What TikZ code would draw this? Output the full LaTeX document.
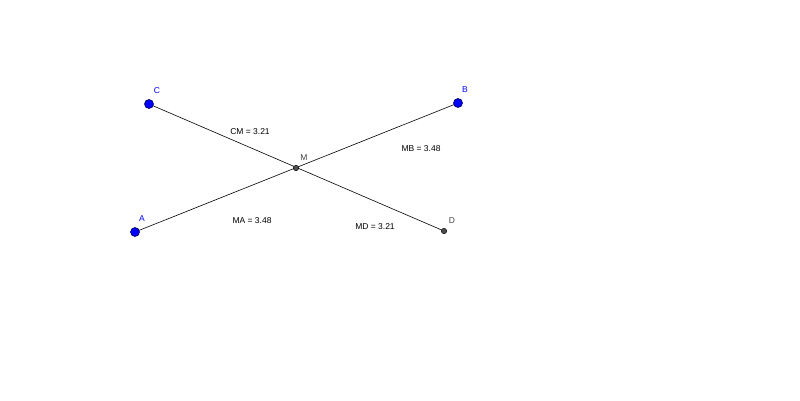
\documentclass[tikz,border=0pt]{standalone}
\usepackage{fontspec}
\setmainfont{Liberation Sans}
\begin{document}
\begin{tikzpicture}[x=1pt,y=-1pt,
  bpt/.style={circle,fill=blue,draw=black!70!blue,line width=0.6pt,inner sep=0pt,minimum size=9pt},
  gpt/.style={circle,fill=black!70,draw=black,line width=0.4pt,inner sep=0pt,minimum size=5.5pt},
  lbl/.style={font=\fontsize{8.5}{10}\selectfont,inner sep=1pt},
  seg/.style={line width=0.6pt,black}]
\useasboundingbox (0,0) rectangle (800,400);
\coordinate (A) at (135,232);
\coordinate (B) at (458,103);
\coordinate (C) at (149,104);
\coordinate (D) at (444,231);
\coordinate (M) at (296,168);
\draw[seg] (A) -- (B);
\draw[seg] (C) -- (D);
\node[bpt] (pA) at (A) {};
\node[bpt] (pB) at (B) {};
\node[bpt] (pC) at (C) {};
\node[gpt] (pD) at (D) {};
\node[gpt] (pM) at (M) {};
\node[lbl,text=blue] (la) at (142,219) {A};
\node[lbl,text=blue] (lb) at (465,90) {B};
\node[lbl,text=blue] (lc) at (157,91) {C};
\node[lbl,text=black!75] (ld) at (452,221) {D};
\node[lbl,text=black!75] (lm) at (304,158) {M};
\node[lbl,fill=white] (cm) at (250,132) {CM = 3.21};
\node[lbl] (mb) at (421,149) {MB = 3.48};
\node[lbl] (ma) at (252,221) {MA = 3.48};
\node[lbl] (md) at (375,227) {MD = 3.21};
\end{tikzpicture}
\end{document}
